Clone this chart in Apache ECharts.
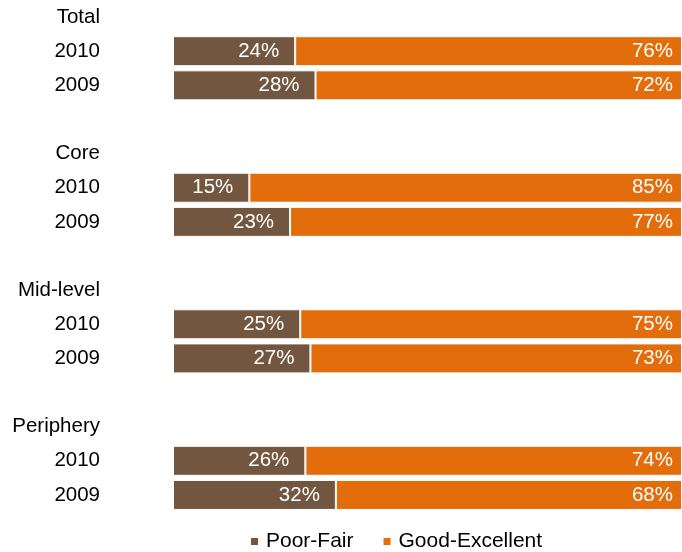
<!DOCTYPE html>
<html>
<head>
<meta charset="utf-8">
<script src="https://cdn.jsdelivr.net/npm/echarts@6/dist/echarts.min.js"></script>
<style>html,body{margin:0;padding:0;background:#fff}#c{width:682px;height:552px}</style>
</head>
<body>
<div id="c"></div>
<script>
var categories = ['Total','2010','2009','','Core','2010 ','2009 ',' ','Mid-level','2010  ','2009  ','  ','Periphery','2010   ','2009   '];
var poorFair = [null,24,28,null,null,15,23,null,null,25,27,null,null,26,32];
var goodExcellent = [null,76,72,null,null,85,77,null,null,75,73,null,null,74,68];
var seriesNames = ['Poor-Fair','Good-Excellent'];

var chart = echarts.init(document.getElementById('c'));
var fontFam = '"Liberation Sans", Arial, sans-serif';
var fs = 20.5;
chart.setOption({
  animation: false,
  grid: {left: 173, right: 0, top: 0, bottom: 40},
  xAxis: {type: 'value', min: 0, max: 100, show: false},
  yAxis: {
    type: 'category', data: categories, inverse: true,
    axisLine: {show: false}, axisTick: {show: false},
    axisLabel: {margin: 73, align: 'right', color: '#000', fontSize: fs, fontFamily: fontFam,
      formatter: function (v) { return v.trim(); }}
  },
  legend: {
    top: 531, left: 251, itemWidth: 7, itemHeight: 7, itemGap: 30,
    icon: 'rect', padding: 0,
    itemStyle: {borderWidth: 0},
    textStyle: {fontSize: 21, fontFamily: fontFam, color: '#000', padding: [0, 0, 0, 3]},
    data: seriesNames
  },
  series: [
    {name: seriesNames[0], type: 'bar', stack: 's', data: poorFair, barWidth: 30,
      itemStyle: {color: '#735640', borderColor: '#fff', borderWidth: 1},
      label: {show: true, position: 'insideRight', distance: 16, color: '#fff', fontSize: fs, fontFamily: fontFam,
        formatter: '{c}%'}},
    {name: seriesNames[1], type: 'bar', stack: 's', data: goodExcellent, barWidth: 30,
      itemStyle: {color: '#E36C0B', borderColor: '#fff', borderWidth: 1},
      label: {show: true, position: 'insideRight', distance: 9, color: '#fff', fontSize: fs, fontFamily: fontFam,
        formatter: '{c}%'}}
  ]
});
</script>
</body>
</html>
